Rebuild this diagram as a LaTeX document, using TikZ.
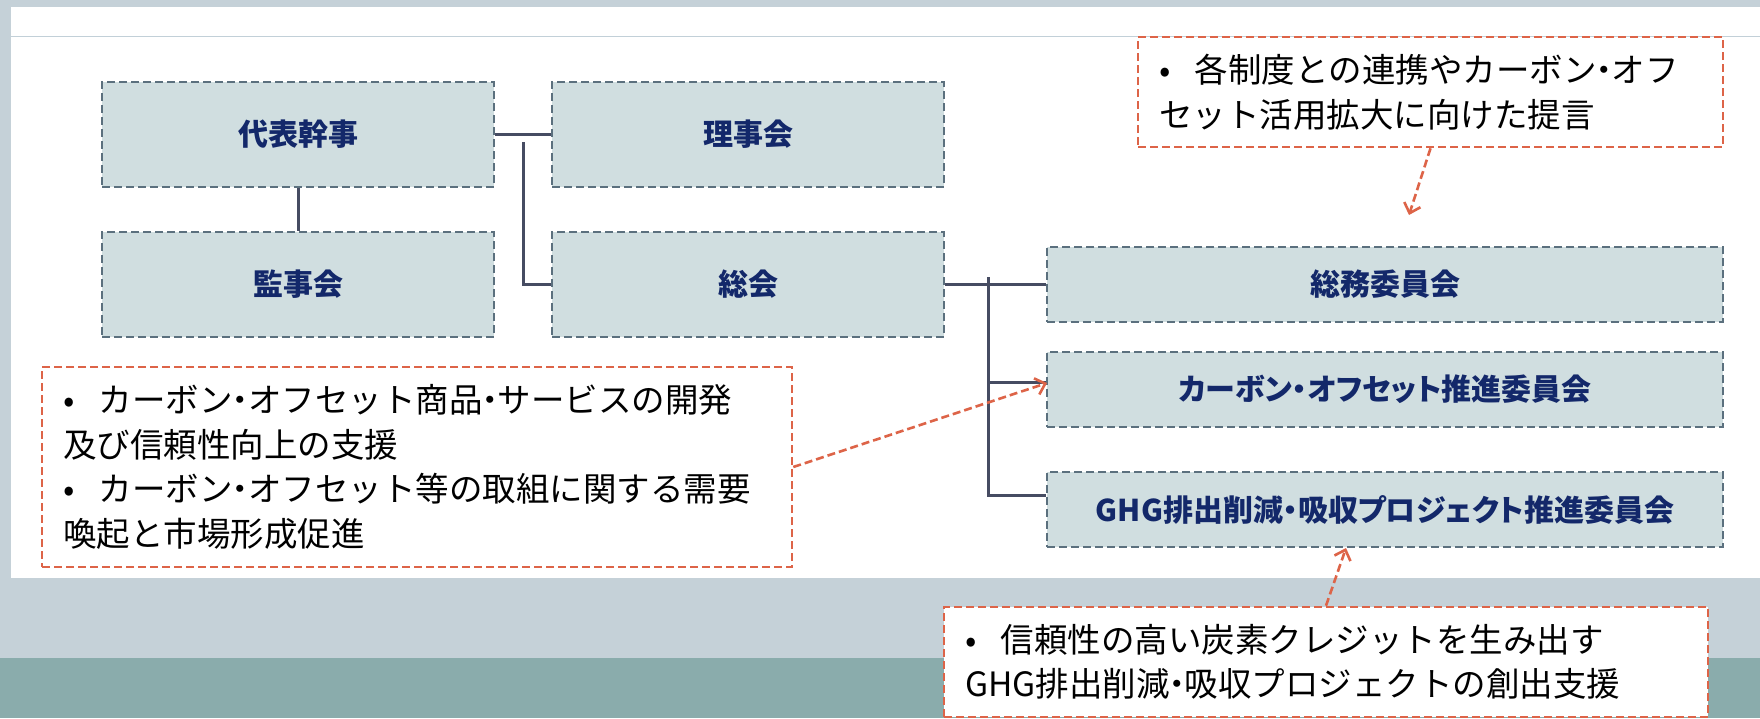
\documentclass[tikz,border=0pt]{standalone}
\usepackage{fontspec}
\usetikzlibrary{arrows.meta,calc}
\newfontfamily\jp{Noto Sans CJK JP}
\newfontfamily\jplab[RawFeature=+palt]{Noto Sans CJK JP}
\definecolor{bggray}{HTML}{C5D1D8}
\definecolor{bgteal}{HTML}{8AACAC}
\definecolor{panelline}{HTML}{C2D0D8}
\definecolor{boxfill}{HTML}{D0DEE0}
\definecolor{boxedge}{HTML}{5B707E}
\definecolor{navy}{HTML}{13286A}
\definecolor{conn}{HTML}{464C62}
\definecolor{callred}{HTML}{DD6448}
\tikzset{
  orgbox/.style={draw=boxedge, fill=boxfill, line width=2.8pt,
    dash pattern=on 8pt off 4pt, inner sep=0pt, text=navy,
    font=\jplab\bfseries\fontsize{30}{36}\selectfont},
  callout/.style={draw=callred, fill=white, line width=2.6pt,
    dash pattern=on 8pt off 4pt, inner xsep=21pt, inner ysep=0pt,
    align=left, font=\jp\fontsize{33.5}{44.5}\selectfont, text=black},
  link/.style={draw=conn, line width=3pt},
  callarrow/.style={draw=callred, line width=2.6pt, dash pattern=on 8pt off 4pt,
    -{Straight Barb[length=9pt,width=17pt,line width=2.6pt]}}
}
\newcommand{\bul}{\makebox[36pt][l]{•}}
\newcommand{\nk}{\makebox[0.45em][c]{・}}
\begin{document}
\begin{tikzpicture}[x=1pt,y=-1pt]
\useasboundingbox (0,0) rectangle (1760,718);
% background
\fill[bggray] (0,0) rectangle (1760,718);
\fill[bgteal] (0,658) rectangle (1760,718);
\fill[white] (11,7) rectangle (1760,578);
\draw[panelline, line width=1pt] (11,36) -- (1760,36);
% organisation boxes
\node[orgbox, minimum width=392pt, minimum height=105pt] (daihyo) at (298,134.5) {\raisebox{-3pt}{代表幹事}};
\node[orgbox, minimum width=392pt, minimum height=105pt] (riji) at (748,134.5) {\raisebox{-3pt}{理事会}};
\node[orgbox, minimum width=392pt, minimum height=105pt] (kanji) at (298,284.5) {\raisebox{-3pt}{監事会}};
\node[orgbox, minimum width=392pt, minimum height=105pt] (sokai) at (748,284.5) {\raisebox{-3pt}{総会}};
\node[orgbox, minimum width=676pt, minimum height=75pt] (somu) at (1385,284.5) {総務委員会};
\node[orgbox, minimum width=676pt, minimum height=75pt] (carbon) at (1385,389.5) {カーボン・オフセット推進委員会};
\node[orgbox, minimum width=676pt, minimum height=75pt] (ghg) at (1385,509.5) {GHG排出削減・吸収プロジェクト推進委員会};
% connectors
\coordinate (v1) at (523,142);
\coordinate (t1) at (988,277);
\coordinate (t2) at (988,495);
\coordinate (b1) at (988,382);
\draw[link] (daihyo.east) -- (riji.west);
\draw[link] (daihyo.south) -- (kanji.north);
\draw[link] (v1) |- (sokai.west);
\draw[link] (sokai.east) -- (somu.west);
\draw[link] (t1) -- (t2) -- (t2 -| ghg.west);
\draw[link] (b1) -- (b1 -| carbon.west);
% callouts
\node[callout, text width=543pt, minimum width=585pt, minimum height=110pt] (topc) at (1430.5,92)
  {\bul 各制度との連携やカーボン\nk オフ\\セット活用拡大に向けた提言};
\node[callout, text width=708pt, minimum width=750pt, minimum height=200pt] (leftc) at (417,467)
  {\bul カーボン\nk オフセット商品\nk サービスの開発\\及び信頼性向上の支援\\\bul カーボン\nk オフセット等の取組に関する需要\\喚起と市場形成促進};
\node[callout, text width=722pt, minimum width=764pt, minimum height=110pt] (botc) at (1326,662)
  {\bul 信頼性の高い炭素クレジットを生み出す\\GHG排出削減\nk 吸収プロジェクトの創出支援};
% callout arrows
\coordinate (a1) at (1409,215);
\coordinate (a2) at (1047,383);
\coordinate (a3) at (1346,548);
\draw[callarrow] (topc.south) -- (a1);
\draw[callarrow] (leftc.east) -- (a2);
\draw[callarrow] (botc.north) -- (a3);
\end{tikzpicture}
\end{document}
